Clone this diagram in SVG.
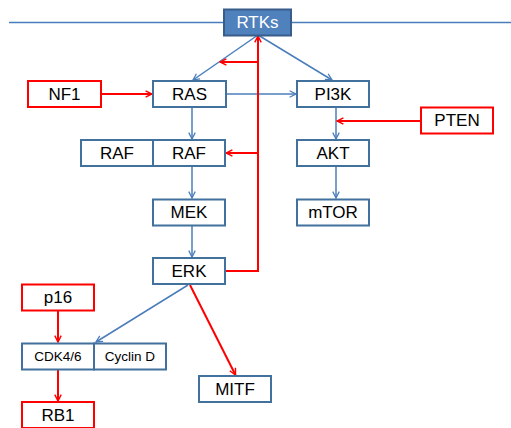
<svg xmlns="http://www.w3.org/2000/svg" width="511" height="428" viewBox="0 0 511 428">
<style>
.box{fill:#fff;stroke:#41719C;stroke-width:2}
.rbox{fill:#fff;stroke:#FF0000;stroke-width:2}
.t{font-family:"Liberation Sans",Arial,sans-serif;font-size:17px;fill:#000;text-anchor:middle;dominant-baseline:central}
.ts{font-family:"Liberation Sans",Arial,sans-serif;font-size:13.5px;fill:#000;text-anchor:middle;dominant-baseline:central}
.b{stroke:#4A7EBB;stroke-width:1.5;fill:none}
.r{stroke:#FF0000;stroke-width:2;fill:none}
</style>
<defs>
<marker id="ab" viewBox="0 0 10 10" refX="9" refY="5" markerWidth="8" markerHeight="8" markerUnits="userSpaceOnUse" orient="auto"><path d="M1,1 L9,5 L1,9" fill="none" stroke="#4A7EBB" stroke-width="1.6"/></marker>
<marker id="ar" viewBox="0 0 10 10" refX="9" refY="5" markerWidth="8" markerHeight="8" markerUnits="userSpaceOnUse" orient="auto"><path d="M1,1 L9,5 L1,9" fill="none" stroke="#FF0000" stroke-width="1.8"/></marker>
</defs>
<line x1="9" y1="22.5" x2="511" y2="22.5" stroke="#4A7EBB" stroke-width="1.5"/>
<g id="connectors">
<line class="b" x1="258" y1="35" x2="193" y2="80" marker-end="url(#ab)"/>
<line class="b" x1="258" y1="35" x2="332" y2="80" marker-end="url(#ab)"/>
<line class="b" x1="226" y1="94" x2="296" y2="94" marker-end="url(#ab)"/>
<line class="b" x1="192" y1="107" x2="192" y2="139" marker-end="url(#ab)"/>
<line class="b" x1="192" y1="166" x2="192" y2="198" marker-end="url(#ab)"/>
<line class="b" x1="192" y1="226" x2="192" y2="257" marker-end="url(#ab)"/>
<line class="b" x1="336" y1="107" x2="336" y2="139" marker-end="url(#ab)"/>
<line class="b" x1="336" y1="166" x2="336" y2="198" marker-end="url(#ab)"/>
<line class="b" x1="188" y1="285" x2="96" y2="342" marker-end="url(#ab)"/>
<line class="r" x1="101" y1="94" x2="152" y2="94" marker-end="url(#ar)"/>
<line class="r" x1="421" y1="121" x2="337" y2="121" marker-end="url(#ar)"/>
<polyline class="r" points="226,271 258,271 258,36" marker-end="url(#ar)"/>
<line class="r" x1="258" y1="62" x2="220" y2="62" marker-end="url(#ar)"/>
<line class="r" x1="258" y1="153" x2="226" y2="153" marker-end="url(#ar)"/>
<line class="r" x1="190" y1="285" x2="235.5" y2="375" marker-end="url(#ar)"/>
<line class="r" x1="58" y1="311" x2="58" y2="342" marker-end="url(#ar)"/>
<line class="r" x1="58" y1="369" x2="58" y2="401" marker-end="url(#ar)"/>
</g>
<g id="RTKs"><rect x="224" y="9.5" width="67" height="26" fill="#4F81BD" stroke="#385D8A" stroke-width="2"/><text class="t" x="257.5" y="22.5" fill="#fff" style="fill:#fff">RTKs</text></g>
<g id="NF1"><rect class="rbox" x="28" y="81" width="73" height="26"/><text class="t" x="64.5" y="94">NF1</text></g>
<g id="RAS"><rect class="box" x="153" y="81" width="73" height="26"/><text class="t" x="189.5" y="94">RAS</text></g>
<g id="PI3K"><rect class="box" x="297" y="81" width="72" height="26"/><text class="t" x="333" y="94">PI3K</text></g>
<g id="PTEN"><rect class="rbox" x="421" y="107.5" width="72" height="26"/><text class="t" x="457" y="120.5">PTEN</text></g>
<g id="RAF1"><rect class="box" x="81" y="140" width="72" height="26"/><text class="t" x="117" y="153">RAF</text></g>
<g id="RAF2"><rect class="box" x="153" y="140" width="72" height="26"/><text class="t" x="189" y="153">RAF</text></g>
<g id="AKT"><rect class="box" x="297" y="140" width="72" height="26"/><text class="t" x="333" y="153">AKT</text></g>
<g id="MEK"><rect class="box" x="153" y="199.5" width="72" height="26"/><text class="t" x="189" y="212.5">MEK</text></g>
<g id="mTOR"><rect class="box" x="297" y="199.5" width="72" height="26"/><text class="t" x="333" y="212.5">mTOR</text></g>
<g id="ERK"><rect class="box" x="153" y="258" width="72" height="26"/><text class="t" x="189" y="271">ERK</text></g>
<g id="p16"><rect class="rbox" x="22" y="284.5" width="72" height="26"/><text class="t" x="58" y="297.5">p16</text></g>
<g id="CDK46"><rect class="box" x="22" y="343.5" width="72" height="26"/><text class="ts" x="58" y="356.5">CDK4/6</text></g>
<g id="CyclinD"><rect class="box" x="94" y="343.5" width="72" height="26"/><text class="ts" x="130" y="356.5">Cyclin D</text></g>
<g id="MITF"><rect class="box" x="199" y="376" width="72" height="26"/><text class="t" x="235" y="389">MITF</text></g>
<g id="RB1"><rect class="rbox" x="22" y="402" width="72" height="26"/><text class="t" x="58" y="415">RB1</text></g>
</svg>
